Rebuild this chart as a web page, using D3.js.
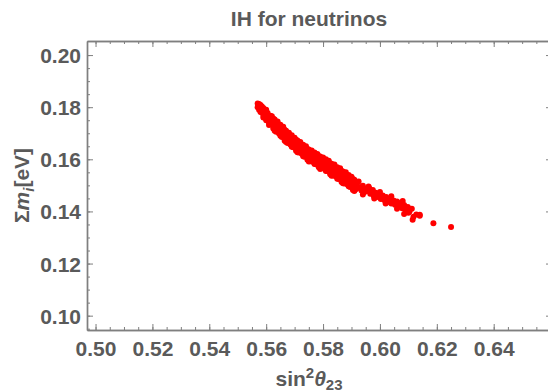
<!DOCTYPE html>
<html>
<head>
<meta charset="utf-8">
<script src="https://cdn.jsdelivr.net/npm/d3@7"></script>
<style>
  body { margin: 0; background: #fff; }
  svg text { font-family: "Liberation Sans", Arial, sans-serif; font-weight: bold; fill: #5a5a5a; }
  .axis path, .axis line { stroke: #7f7f7f; }
</style>
</head>
<body>
<script>
// tick values
var xTicks = [0.50, 0.52, 0.54, 0.56, 0.58, 0.60, 0.62, 0.64];
var yTicks = [0.10, 0.12, 0.14, 0.16, 0.18, 0.20];
var xMinor = d3.range(0, 33).map(function(i) { return +(0.50 + i * 0.005).toFixed(3); });
var yMinor = d3.range(0, 22).map(function(i) { return +(0.095 + i * 0.005).toFixed(3); });

// [sin^2 theta23, sum m_i]
var points = [
  [0.5570, 0.1814], [0.5570, 0.1800], [0.5575, 0.1812], [0.5575, 0.1790],
  [0.5580, 0.1808], [0.5580, 0.1782], [0.5585, 0.1803], [0.5585, 0.1780],
  [0.5590, 0.1797], [0.5590, 0.1770], [0.5595, 0.1786], [0.5595, 0.1762],
  [0.5600, 0.1784], [0.5600, 0.1750], [0.5605, 0.1778], [0.5605, 0.1754],
  [0.5610, 0.1764], [0.5610, 0.1740], [0.5615, 0.1767], [0.5615, 0.1746],
  [0.5620, 0.1751], [0.5620, 0.1733], [0.5625, 0.1757], [0.5625, 0.1718],
  [0.5630, 0.1753], [0.5630, 0.1727], [0.5635, 0.1736], [0.5635, 0.1706],
  [0.5640, 0.1738], [0.5640, 0.1717], [0.5645, 0.1720], [0.5645, 0.1699],
  [0.5650, 0.1733], [0.5650, 0.1701], [0.5655, 0.1718], [0.5655, 0.1686],
  [0.5660, 0.1706], [0.5660, 0.1688], [0.5665, 0.1713], [0.5665, 0.1671],
  [0.5670, 0.1710], [0.5670, 0.1675], [0.5675, 0.1693], [0.5675, 0.1663],
  [0.5680, 0.1695], [0.5680, 0.1674], [0.5685, 0.1678], [0.5685, 0.1657],
  [0.5690, 0.1692], [0.5690, 0.1660], [0.5695, 0.1678], [0.5695, 0.1646],
  [0.5700, 0.1667], [0.5700, 0.1649], [0.5705, 0.1675], [0.5705, 0.1633],
  [0.5710, 0.1672], [0.5710, 0.1637], [0.5715, 0.1656], [0.5715, 0.1626],
  [0.5720, 0.1659], [0.5720, 0.1638], [0.5725, 0.1642], [0.5725, 0.1621],
  [0.5730, 0.1656], [0.5730, 0.1624], [0.5735, 0.1642], [0.5735, 0.1610],
  [0.5740, 0.1632], [0.5740, 0.1614], [0.5745, 0.1640], [0.5745, 0.1598],
  [0.5750, 0.1638], [0.5750, 0.1603], [0.5755, 0.1623], [0.5755, 0.1593],
  [0.5760, 0.1627], [0.5760, 0.1606], [0.5765, 0.1611], [0.5765, 0.1590],
  [0.5770, 0.1626], [0.5770, 0.1594], [0.5775, 0.1613], [0.5775, 0.1581],
  [0.5780, 0.1603], [0.5780, 0.1585], [0.5785, 0.1612], [0.5785, 0.1570],
  [0.5790, 0.1611], [0.5790, 0.1576], [0.5795, 0.1596], [0.5795, 0.1566],
  [0.5800, 0.1601], [0.5800, 0.1580], [0.5805, 0.1585], [0.5805, 0.1564],
  [0.5810, 0.1600], [0.5810, 0.1568], [0.5815, 0.1587], [0.5815, 0.1555],
  [0.5820, 0.1577], [0.5820, 0.1559], [0.5825, 0.1585], [0.5825, 0.1543],
  [0.5830, 0.1583], [0.5830, 0.1548], [0.5835, 0.1568], [0.5835, 0.1538],
  [0.5840, 0.1572], [0.5840, 0.1551], [0.5845, 0.1555], [0.5845, 0.1534],
  [0.5850, 0.1570], [0.5850, 0.1538], [0.5855, 0.1556], [0.5855, 0.1524],
  [0.5860, 0.1546], [0.5860, 0.1528], [0.5865, 0.1555], [0.5865, 0.1513],
  [0.5870, 0.1553], [0.5870, 0.1518], [0.5875, 0.1537], [0.5875, 0.1507],
  [0.5880, 0.1541], [0.5880, 0.1520], [0.5885, 0.1525], [0.5885, 0.1504],
  [0.5890, 0.1540], [0.5890, 0.1508], [0.5895, 0.1526], [0.5895, 0.1494],
  [0.5900, 0.1516], [0.5900, 0.1498], [0.5905, 0.1524], [0.5905, 0.1482],
  [0.5910, 0.1522], [0.5910, 0.1487], [0.5915, 0.1507], [0.5915, 0.1485],
  [0.5920, 0.1511], [0.5920, 0.1490],
  // middle of the band
  [0.5572, 0.1806], [0.5583, 0.1793], [0.5593, 0.1779], [0.5603, 0.1768],
  [0.5613, 0.1757], [0.5623, 0.1744], [0.5633, 0.1731], [0.5643, 0.1720],
  [0.5653, 0.1709], [0.5663, 0.1697], [0.5673, 0.1689], [0.5683, 0.1676],
  [0.5693, 0.1669], [0.5703, 0.1659], [0.5713, 0.1649], [0.5723, 0.1642],
  [0.5733, 0.1631], [0.5743, 0.1624], [0.5753, 0.1616], [0.5763, 0.1609],
  [0.5773, 0.1603], [0.5783, 0.1595], [0.5793, 0.1589], [0.5803, 0.1583],
  [0.5813, 0.1577], [0.5823, 0.1569], [0.5833, 0.1561], [0.5843, 0.1554],
  [0.5853, 0.1546], [0.5863, 0.1538], [0.5873, 0.1531], [0.5883, 0.1523],
  [0.5893, 0.1516], [0.5903, 0.1508], [0.5913, 0.1500], [0.5923, 0.1494],
  [0.5933, 0.1488], [0.5943, 0.1485], [0.5953, 0.1480], [0.5970, 0.1474],
  [0.5995, 0.1461], [0.6020, 0.1447], [0.6045, 0.1437], [0.6070, 0.1424],
  [0.6094, 0.1412],
  // upper edge of the band
  [0.5600, 0.1790], [0.5620, 0.1765], [0.5640, 0.1745], [0.5660, 0.1725],
  [0.5680, 0.1702], [0.5700, 0.1683], [0.5720, 0.1666], [0.5740, 0.1650],
  [0.5760, 0.1634], [0.5780, 0.1620], [0.5800, 0.1607], [0.5820, 0.1594],
  [0.5840, 0.1580], [0.5860, 0.1566], [0.5880, 0.1550], [0.5900, 0.1533],
  [0.5925, 0.1515], [0.5960, 0.1496], [0.6000, 0.1475], [0.6040, 0.1458],
  [0.6080, 0.1440],
  // lower edge of the band
  [0.5590, 0.1760], [0.5610, 0.1732], [0.5630, 0.1710], [0.5650, 0.1690],
  [0.5670, 0.1666], [0.5690, 0.1648], [0.5710, 0.1627], [0.5730, 0.1612],
  [0.5750, 0.1592], [0.5770, 0.1582], [0.5790, 0.1563], [0.5810, 0.1555],
  [0.5830, 0.1537], [0.5850, 0.1525], [0.5870, 0.1508], [0.5890, 0.1497],
  [0.5910, 0.1478], [0.5940, 0.1465], [0.5980, 0.1450], [0.6020, 0.1430],
  [0.6060, 0.1410], [0.6100, 0.1395],
  // sparser tail
  [0.5930, 0.1493], [0.5935, 0.1480], [0.5940, 0.1499], [0.5945, 0.1474],
  [0.5950, 0.1487], [0.5955, 0.1478], [0.5962, 0.1490], [0.5966, 0.1468],
  [0.5975, 0.1482], [0.5978, 0.1460], [0.5985, 0.1472], [0.5990, 0.1455],
  [0.5998, 0.1466], [0.6003, 0.1448], [0.6010, 0.1461], [0.6015, 0.1444],
  [0.6022, 0.1455], [0.6027, 0.1436], [0.6035, 0.1449], [0.6040, 0.1430],
  [0.6048, 0.1442], [0.6053, 0.1426], [0.6060, 0.1438], [0.6066, 0.1418],
  [0.6072, 0.1432], [0.6078, 0.1412], [0.6085, 0.1425], [0.6090, 0.1405],
  [0.6098, 0.1417], [0.6104, 0.1400], [0.6112, 0.1410], [0.6118, 0.1380],
  [0.6085, 0.1390], [0.6115, 0.1368], [0.6140, 0.1383],
  [0.6128, 0.1388], [0.6140, 0.1387], [0.6188, 0.1355], [0.6250, 0.1340]
];

var width = 548, height = 392;
var frame = {left: 87, top: 41, right: 552, bottom: 330};

var x = d3.scaleLinear().domain([0.497, 0.6605]).range([frame.left, frame.right]);
var y = d3.scaleLinear().domain([0.0945, 0.2054]).range([frame.bottom, frame.top]);

var svg = d3.select("body").append("svg")
    .attr("width", width)
    .attr("height", height);

var fmt = d3.format(".2f");

// frame: minor ticks first, then major ticks with labels
function drawAxis(axisFn, scale, pos, major, minor, label) {
  var minorAxis = axisFn(scale).tickValues(minor).tickSize(-3).tickSizeOuter(0).tickFormat("");
  var majorAxis = axisFn(scale).tickValues(major).tickSize(-6).tickSizeOuter(0)
      .tickFormat(label ? fmt : "");
  svg.append("g").attr("class", "axis").attr("transform", pos).call(minorAxis);
  return svg.append("g").attr("class", "axis").attr("transform", pos).call(majorAxis);
}

var bottom = drawAxis(d3.axisBottom, x, "translate(0," + frame.bottom + ")", xTicks, xMinor, true);
drawAxis(d3.axisTop, x, "translate(0," + frame.top + ")", xTicks, xMinor, false);
var left = drawAxis(d3.axisLeft, y, "translate(" + frame.left + ",0)", yTicks, yMinor, true);
drawAxis(d3.axisRight, y, "translate(" + frame.right + ",0)", yTicks, yMinor, false);

svg.selectAll(".axis path").attr("stroke-width", 1.4);

bottom.selectAll("text")
    .attr("y", 26).attr("dy", null)
    .style("font-size", "21px");
left.selectAll("text")
    .attr("x", -6).attr("dy", "0.36em")
    .style("font-size", "21px");

// points
svg.append("g").selectAll("circle")
    .data(points)
  .enter().append("circle")
    .attr("cx", function(d) { return x(d[0]); })
    .attr("cy", function(d) { return y(d[1]); })
    .attr("r", 3)
    .attr("fill", "#ff0000");

// title
svg.append("text")
    .attr("x", 309)
    .attr("y", 26)
    .attr("text-anchor", "middle")
    .style("font-size", "21px")
    .text("IH for neutrinos");

// x label: sin^2 theta_23
var xl = svg.append("text")
    .attr("x", 309)
    .attr("y", 386)
    .attr("text-anchor", "middle")
    .style("font-size", "21px");
xl.append("tspan").text("sin");
xl.append("tspan").attr("dy", -8).style("font-size", "15px").text("2");
xl.append("tspan").attr("dy", 8).style("font-style", "italic").text("θ");
xl.append("tspan").attr("dy", 4).style("font-size", "15px").text("23");

// y label: sum m_i [eV]
var yl = svg.append("text")
    .attr("transform", "translate(29," + ((frame.top + frame.bottom) / 2) + ") rotate(-90)")
    .attr("text-anchor", "middle")
    .style("font-size", "21px");
yl.append("tspan").text("Σ");
yl.append("tspan").style("font-style", "italic").text("m");
yl.append("tspan").attr("dy", 5).style("font-size", "15px").style("font-style", "italic").text("i");
yl.append("tspan").attr("dy", -5).text("[eV]");
</script>
</body>
</html>
